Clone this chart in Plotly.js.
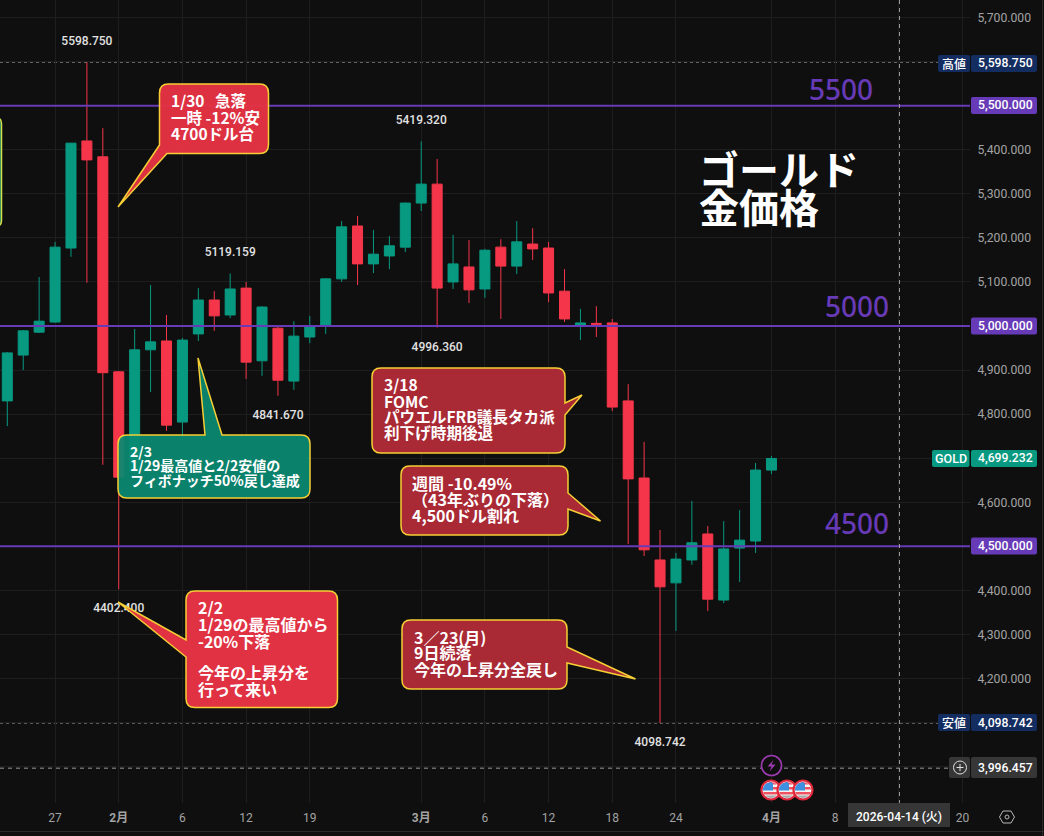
<!DOCTYPE html>
<html><head><meta charset="utf-8">
<script src="https://cdn.plot.ly/plotly-3.0.1.min.js"></script>
<style>html,body{margin:0;padding:0;background:#0f0f0f;overflow:hidden}#c{width:1044px;height:836px}</style>
</head><body><div id="c"></div>
<script>
// ---- data ----
const candleSlots = [0,1,2,3,4,5,6,7,8,9,10,11,12,13,14,15,16,17,18,19,20,21,22,23,24,25,26,27,28,29,30,31,32,33,34,35,36,37,38,39,40,41,42,43,44,45,46,47,48];
const opens  = [4830,4934,4986,5009,5177,5420,5384,4896,4669,4946,4966,4782,4982,5059,5025,5086,4921,4995,4875,4975,5002,5107,5227,5141,5159,5179,5279,5322,5100,5134,5084,5179,5136,5186,5177,5079,5000,5006,5007,4830,4655,4469,4417,4469,4528,4378,4496,4512,4673];
const highs  = [4941,4991,5111,5191,5415,5598.75,5449,4898,4993,5093,5025,4973,5086,5079,5119.159,5100,5045,4998,5011,5023,5109,5238,5250,5218,5204,5280,5419.32,5379,5207,5195,5175,5197,5238,5222,5191,5129,5039,5045,5016,4868,4737,4537,4485,4603,4546,4557,4582,4689,4705];
const lows   = [4773,4900,4984,5007,5157,5098,4685,4402.4,4664,4850,4762,4741,4966,4989,5018,4880,4887,4841.67,4855,4961,4982,5100,5093,5120,5129,5168,5261,4996.36,5084,5052,5064,5016,5118,5150,5054,5009,4968,4975,4807,4505,4478,4098.742,4308,4458,4353,4371,4419,4485,4664];
const closes = [4939,4989,5011,5179,5415,5377,4894,4657,4946,4964,4775,4968,5059,5023,5084,4918,5043,4877,4977,4998,5107,5225,5141,5163,5182,5279,5322,5086,5141,5082,5172,5136,5191,5175,5075,5016,5007,5004,4816,4653,4492,4408,4471,4508,4380,4494,4514,4673,4699.232];

const pivotSlots  = [5,26,14,27,17,7,41];
const pivotPrices = [5598.75,5419.32,5119.159,4996.36,4841.67,4402.4,4098.742];
const pivotLabels = ['5598.750','5419.320','5119.159','4996.360','4841.670','4402.400','4098.742'];
const pivotSides  = ['top center','top center','top center','bottom center','bottom center','bottom center','bottom center'];

const priceTicks = [4000,4100,4200,4300,4400,4500,4600,4700,4800,4900,5000,5100,5200,5300,5400,5500,5600,5700];
const priceTickShown = [0,0,1,1,1,0,1,0,1,1,0,1,1,1,1,0,0,1];
const timeTicks = [3,7,11,15,19,26,30,34,38,42,48,52,56,60];
const timeLabels = ['27','<b>2月</b>','6','12','19','<b>3月</b>','6','12','18','24','<b>4月</b>','8','','20'];

const levels = [5500,5000,4500];
const highPrice = 5598.75, lowPrice = 4098.742, lastPrice = 4699.232, crossPrice = 3996.457;

// ---- layout geometry ----
const W=1044,H=836,PW=970,PH=803;
const px=x=>x/PW, py=y=>1-y/PH;
const P=(x,y)=>px(x).toFixed(6)+' '+py(y).toFixed(6);
const COL={red:'#f5364a',green:'#089981',purple:'#673ab7',navy:'#132d61',gray:'#363636',grid:'#1e1e1e',tick:'#a3a3a3',yellow:'#f5cf35'};
const shapes=[],annotations=[];
const paperShape=o=>Object.assign({xref:'paper',yref:'paper',layer:'above'},o);
const rect=(x0,y0,x1,y1,fill,r)=>{r=r===undefined?2:r;shapes.push(paperShape({type:'path',path:roundPath(x0,y0,x1,y1,r),fillcolor:fill,line:{width:0}}));};
const text=(t,x,y,o)=>{o=o||{};annotations.push({xref:'paper',yref:'paper',x:px(x),y:py(y),text:t,showarrow:false,xanchor:o.anchor||'center',yanchor:'middle',align:o.anchor||'center',borderpad:0,
  font:{family:o.family||'Roboto, "Noto Sans CJK JP"',size:o.size||12,color:o.color||'#ffffff',weight:o.weight||400}});};
function roundPath(x0,y0,x1,y1,r){return `M${P(x0+r,y0)} L${P(x1-r,y0)} Q${P(x1,y0)} ${P(x1,y0+r)} L${P(x1,y1-r)} Q${P(x1,y1)} ${P(x1-r,y1)} L${P(x0+r,y1)} Q${P(x0,y1)} ${P(x0,y1-r)} L${P(x0,y0+r)} Q${P(x0,y0)} ${P(x0+r,y0)} Z`;}
function calloutPath(b,t){
  const [x0,y0,x1,y1]=b,r=9; let d=`M${P(x0+r,y0)} `;
  const pts=a=>a.map(p=>`L${P(p[0],p[1])} `).join('');
  if(t.edge==='top') d+=pts(t.pts);
  d+=`L${P(x1-r,y0)} Q${P(x1,y0)} ${P(x1,y0+r)} `;
  if(t.edge==='right') d+=pts(t.pts);
  d+=`L${P(x1,y1-r)} Q${P(x1,y1)} ${P(x1-r,y1)} `;
  if(t.edge==='bottomleft'){ d+=pts(t.pts); }
  else { d+=`L${P(x0+r,y1)} Q${P(x0,y1)} ${P(x0,y1-r)} `; if(t.edge==='left') d+=pts(t.pts); }
  d+=`L${P(x0,y0+r)} Q${P(x0,y0)} ${P(x0+r,y0)} Z`;
  return d;
}
const callouts=[
 {b:[159.5,84,268.5,153.5],size:15.5,fill:'rgba(228,51,68,0.97)',t:{edge:'bottomleft',pts:[[167,153.5],[118,207],[159.5,145]]},x:170,lines:[['1/30\u00a0\u00a0\u00a0急落',100],['一時 -12%安',117],['4700ドル台',133]]},
 {b:[118,435,310,498],size:14,fill:'rgba(9,138,114,0.93)',t:{edge:'top',pts:[[205,435],[198,358],[222,435]]},x:129,lines:[['2/3',450.5],['1/29最高値と2/2安値の',464.5],['フィボナッチ50%戻し達成',479.5]]},
 {b:[186,591,337.5,707.5],size:16,fill:'rgba(228,51,68,0.98)',t:{edge:'left',pts:[[186,657],[118,602],[186,640]]},x:197,lines:[['2/2',607],['1/29の最高値から',624],['-20%下落',641],['今年の上昇分を',672],['行って来い',688.5]]},
 {b:[372,368,565,453],size:15.6,fill:'rgba(172,42,54,0.98)',t:{edge:'right',pts:[[565,403],[582,395],[565,415]]},x:383,lines:[['3/18',384],['FOMC',401],['パウエルFRB議長タカ派',416.5],['利下げ時期後退',432]]},
 {b:[401,466,568,535],size:16,fill:'rgba(172,42,54,0.98)',t:{edge:'right',pts:[[568,493],[600.5,521],[568,509]]},x:411,lines:[['週間 -10.49%',483],['（43年ぶりの下落）',499],['4,500ドル割れ',515]]},
 {b:[402,620,567,689],size:16,fill:'rgba(172,42,54,0.98)',t:{edge:'right',pts:[[567,647],[635.5,679],[567,663]]},x:413,lines:[['3／23(月)',637],['9日続落',652],['今年の上昇分全戻し',668.5]]}
];
// level lines, dotted lines, crosshair
levels.forEach(v=>shapes.push({type:'line',xref:'paper',yref:'y',x0:0,x1:1,y0:v,y1:v,layer:'above',line:{color:COL.purple,width:2}}));
shapes.push({type:'line',xref:'paper',yref:'y',x0:0,x1:px(938),y0:highPrice,y1:highPrice,layer:'below',line:{color:'#8a8a8a',width:1,dash:'dot'}});
shapes.push({type:'line',xref:'paper',yref:'y',x0:0,x1:px(938),y0:lowPrice,y1:lowPrice,layer:'below',line:{color:'#8a8a8a',width:1,dash:'dot'}});
shapes.push({type:'line',xref:'paper',yref:'y',x0:0,x1:px(932),y0:lastPrice,y1:lastPrice,layer:'below',line:{color:COL.green,width:1,dash:'dot'}});
shapes.push({type:'line',xref:'paper',yref:'y',x0:0,x1:px(950),y0:crossPrice,y1:crossPrice,layer:'above',line:{color:'#9a9a9a',width:1,dash:'4px,4px'}});
shapes.push(paperShape({type:'line',x0:px(899.5),x1:px(899.5),y0:py(0),y1:py(803),line:{color:'#9a9a9a',width:1,dash:'4px,4px'}}));
// callouts
callouts.forEach(c=>{shapes.push(paperShape({type:'path',path:calloutPath(c.b,c.t),fillcolor:c.fill,line:{color:COL.yellow,width:1.5}}));
  c.lines.forEach(l=>text(l[0],c.x,l[1],{anchor:'left',size:c.size,weight:700,family:'"Noto Sans CJK JP"'}));});
// partial callout at the left edge
shapes.push(paperShape({type:'path',path:roundPath(-30,117.5,1.5,226.5,6),fillcolor:'rgba(9,138,114,0.9)',line:{color:'#d9e04a',width:1.5}}));
// headline and level captions
text('ゴールド',698,168,{anchor:'left',size:40,weight:700,family:'"Noto Sans CJK JP"'});
text('金価格',698,206,{anchor:'left',size:40,weight:700,family:'"Noto Sans CJK JP"'});
[['5500',841,89],['5000',857,306],['4500',857,523]].forEach(a=>text(a[0],a[1],a[2],{size:28,color:COL.purple,weight:500,family:'"Noto Sans"'}));
// price tags
const tag=(t,y,fill,o)=>{rect(971,y-8.5,1037,y+8.5,fill);text(t,1005,y,Object.assign({size:12.2,weight:500},o||{}));};
tag('5,598.750',63.5,COL.navy);
rect(938,55,970,72,COL.navy);text('高値',954,63.5,{size:12,weight:500,family:'"Noto Sans CJK JP"'});
tag('5,500.000',105.5,COL.purple);tag('5,000.000',326,COL.purple);tag('4,500.000',546,COL.purple);
tag('4,699.232',458.5,COL.green);
rect(932,450,969.5,467,COL.green);text('GOLD',951,458.5,{size:12.5,weight:500});
tag('4,098.742',722.5,COL.navy);
rect(938,714,970,731,COL.navy);text('安値',954,722.5,{size:12,weight:500,family:'"Noto Sans CJK JP"'});
rect(971,757,1037,778,COL.gray);text('3,996.457',1005,767.5,{size:12.2,weight:500});
rect(949,757,970,778,COL.gray);
shapes.push(paperShape({type:'circle',x0:px(953.5),x1:px(966.5),y0:py(761),y1:py(774),line:{color:'#e0e0e0',width:1}}));
shapes.push(paperShape({type:'path',path:`M${P(956.5,767.5)} L${P(963.5,767.5)} M${P(960,764)} L${P(960,771)}`,line:{color:'#e0e0e0',width:1}}));
// date tag
rect(848,803,950,827,COL.gray,0);text('2026-04-14 (火)',899,817,{size:12,weight:500,family:'Roboto,"Noto Sans CJK JP"'});
// frame lines
shapes.push(paperShape({type:'line',x0:0,x1:px(W),y0:py(831.5),y1:py(831.5),line:{color:'#2a2a2a',width:1}}));
shapes.push(paperShape({type:'line',x0:px(1042.5),x1:px(1042.5),y0:py(0),y1:py(H),line:{color:'#2a2a2a',width:1}}));
// settings hexagon
shapes.push(paperShape({type:'path',path:`M${P(999.5,817)} L${P(1003,811)} L${P(1011,811)} L${P(1014.5,817)} L${P(1011,823)} L${P(1003,823)} Z`,line:{color:'#b8b8b8',width:1}}));
shapes.push(paperShape({type:'circle',x0:px(1005),x1:px(1009),y0:py(815),y1:py(819),line:{color:'#b8b8b8',width:1}}));
// event icons
shapes.push(paperShape({type:'circle',x0:px(761.5),x1:px(781.5),y0:py(755.5),y1:py(775.5),fillcolor:'#0f0f0f',line:{color:'#9c3bb0',width:1.6}}));
shapes.push(paperShape({type:'path',path:`M${P(773.5,760)} L${P(767.5,766.5)} L${P(771.5,766.5)} L${P(769.5,771.5)} L${P(775.5,764.5)} L${P(771.5,764.5)} Z`,fillcolor:'#9c3bb0',line:{width:0}}));
function band(cx,cy,r,y1,y2,xMax){ // part of a disc between two heights
  const a=[],b=[];const n=6;
  for(let i=0;i<=n;i++){const y=y1+(y2-y1)*i/n;const w=Math.sqrt(Math.max(0,r*r-(y-cy)*(y-cy)));a.push([cx-w,y]);b.unshift([Math.min(cx+w,xMax===undefined?cx+w:xMax),y]);}
  return 'M'+a.concat(b).map(p=>P(p[0],p[1])).join(' L')+' Z';
}
[771,787,803].forEach(cx=>{const cy=790,r=8;
  shapes.push(paperShape({type:'circle',x0:px(cx-r-1.5),x1:px(cx+r+1.5),y0:py(cy-r-1.5),y1:py(cy+r+1.5),fillcolor:'#f4f4f4',line:{color:'#e0263a',width:2.2}}));
  [[-8,-5.5],[-3,-0.5],[2,4.5]].forEach(s=>shapes.push(paperShape({type:'path',path:band(cx,cy,r,cy+s[0],cy+s[1]),fillcolor:'#f0525f',line:{width:0}})));
  shapes.push(paperShape({type:'path',path:band(cx,cy,r,cy-8,cy+0.5,cx+2),fillcolor:'#3d8fe0',line:{width:0}}));
  shapes.push(paperShape({type:'path',path:band(cx,cy,r,cy+5.5,cy+8),fillcolor:'#a9a9a9',line:{width:0}}));
});

const candle={type:'candlestick',x:candleSlots,open:opens,high:highs,low:lows,close:closes,hoverinfo:'skip',showlegend:false,
  increasing:{line:{color:COL.green,width:1},fillcolor:COL.green},decreasing:{line:{color:COL.red,width:1},fillcolor:COL.red},whiskerwidth:0};
const pivots={type:'scatter',mode:'markers+text',x:pivotSlots,y:pivotPrices,text:pivotLabels,textposition:pivotSides,hoverinfo:'skip',showlegend:false,
  marker:{size:pivotSides.map(s=>s[0]==='t'?21:21),opacity:0},textfont:{family:'Roboto',size:12,color:'#e2e2e2',weight:500},cliponaxis:false};

const layout={width:W,height:H,margin:{l:0,r:W-PW,t:0,b:H-PH,pad:0},paper_bgcolor:'#0f0f0f',plot_bgcolor:'#0f0f0f',showlegend:false,boxgap:0.1,
  font:{family:'Roboto, "Noto Sans CJK JP"',color:COL.tick},
  xaxis:{type:'linear',range:[-0.4585,60.47],rangeslider:{visible:false},tickmode:'array',tickvals:timeTicks,ticktext:timeLabels,showgrid:true,gridcolor:COL.grid,gridwidth:1,zeroline:false,showline:false,ticks:'outside',ticklen:4,tickcolor:'rgba(0,0,0,0)',tickfont:{size:12,color:COL.tick,family:'Roboto, "Noto Sans CJK JP"'},tickangle:0},
  yaxis:{type:'linear',side:'right',range:[3917.4,5739.9],tickmode:'array',tickvals:priceTicks,ticktext:priceTicks.map((v,i)=>priceTickShown[i]?v.toLocaleString('en-US',{minimumFractionDigits:3}):''),showgrid:true,gridcolor:COL.grid,gridwidth:1,zeroline:false,showline:false,ticks:'outside',ticklen:4,tickcolor:'rgba(0,0,0,0)',tickfont:{size:12.2,color:COL.tick,family:'Roboto'}},
  shapes:shapes,annotations:annotations};
Plotly.newPlot('c',[candle,pivots],layout,{displayModeBar:false,staticPlot:true});
</script></body></html>
